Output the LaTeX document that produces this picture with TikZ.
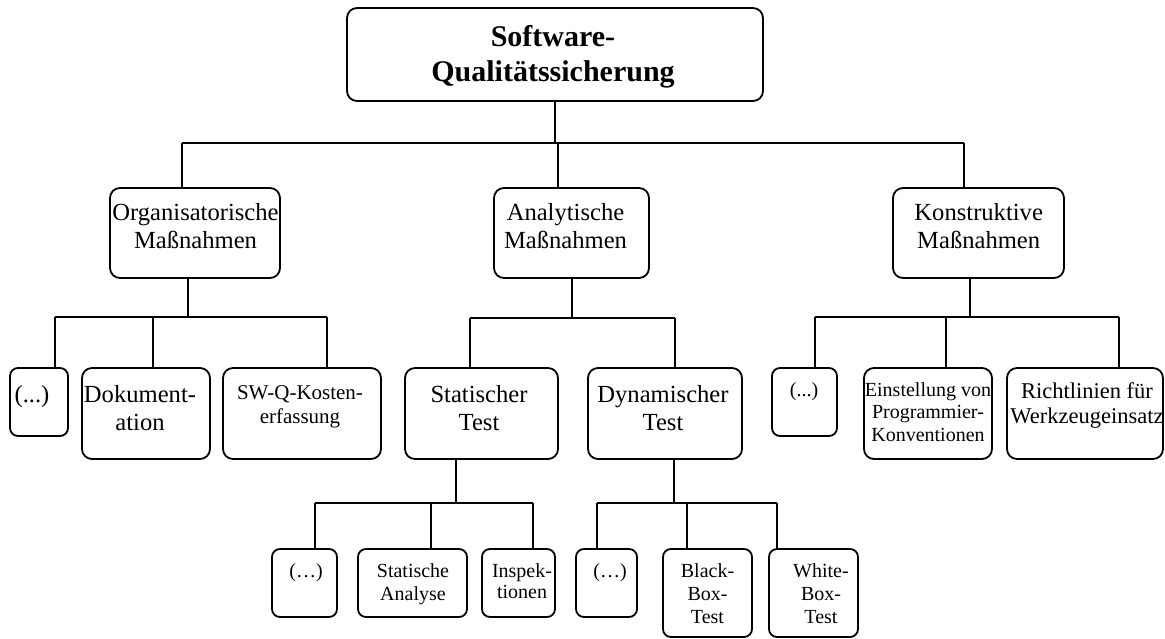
\documentclass[tikz,border=0pt]{standalone}
\usepackage{fontspec}
\setmainfont{Liberation Serif}
\tikzset{
  box/.style={draw, line width=1.8pt, rounded corners=10pt, inner sep=0pt, outer sep=0pt},
  sbox/.style={box, rounded corners=8pt},
  link/.style={line width=1.8pt},
  % labels are placed by the baseline of their last line
  lbl/.style={anchor=base, align=center, inner sep=0pt},
  big/.style={lbl, font=\fontsize{24.6}{28}\selectfont},
  mid/.style={lbl, font=\fontsize{21}{24}\selectfont},
  wide/.style={lbl, font=\fontsize{22.5}{25}\selectfont},
  small/.style={lbl, font=\fontsize{20}{23}\selectfont},
  head/.style={lbl, font=\fontsize{30}{35}\selectfont\bfseries},
}
% box from corner (x1,y1) to corner (x2,y2)
\newcommand\mkbox[6]{%
  \node[#1, minimum width={(#5-#3)*1pt}, minimum height={(#6-#4)*1pt}]
    (#2) at ({(#3+#5)/2},{(#4+#6)/2}) {};}
\begin{document}
\begin{tikzpicture}[x=1pt, y=-1pt]
\useasboundingbox (0,0) rectangle (1165,639);

% ---- boxes ----
\mkbox{box}{top}{347}{8}{763}{101}
\mkbox{box}{org}{110}{188}{280}{278}
\mkbox{box}{ana}{494}{188}{649}{278}
\mkbox{box}{kon}{893}{188}{1064}{278}
\mkbox{sbox}{o1}{10}{368}{68}{436}
\mkbox{box}{o2}{82}{368}{210}{459}
\mkbox{box}{o3}{223}{368}{381}{459}
\mkbox{box}{stat}{405}{368}{558}{459}
\mkbox{box}{dyn}{588}{368}{742}{459}
\mkbox{sbox}{k1}{772}{368}{837}{436}
\mkbox{box}{k2}{864}{368}{992}{459}
\mkbox{box}{k3}{1007}{368}{1163}{459}
\mkbox{sbox}{s1}{272}{549}{337}{617}
\mkbox{sbox}{s2}{358}{549}{467}{617}
\mkbox{sbox}{s3}{482}{549}{555}{617}
\mkbox{sbox}{d1}{576}{549}{637}{617}
\mkbox{sbox}{d2}{663}{549}{752}{637}
\mkbox{sbox}{d3}{769}{549}{858}{637}

% ---- labels ----
\node[head] (top-t) at (553,82) {Software-\\Qualitätssicherung};
\node[big] (org-t) at (195.5,248) {Organisatorische\\Maßnahmen};
\node[big] (ana-t) at (565.5,248) {Analytische\\Maßnahmen};
\node[big] (kon-t) at (978.7,248) {Konstruktive\\Maßnahmen};
\node[big] (o1-t) at (32,402) {(...)};
\node[big] (o2-t) at (140,430) {Dokument-\\ation};
\node[mid] (o3-t) at (300,423) {SW-Q-Kosten-\\erfassung};
\node[big] (stat-t) at (479,430) {Statischer\\Test};
\node[big] (dyn-t) at (663,430) {Dynamischer\\Test};
\node[small] (k1-t) at (804,396) {(...)};
\node[small, font=\fontsize{20}{22.7}\selectfont] (k2-t) at (928,441.4) {Einstellung von\\Programmier-\\Konventionen};
\node[wide] (k3-t) at (1087,423) {Richtlinien für\\Werkzeugeinsatz};
\node[small] (s1-t) at (306,577) {(…)};
\node[small] (s2-t) at (413,600) {Statische\\Analyse};
\node[small, font=\fontsize{20}{21.5}\selectfont] (s3-t) at (522,598.5) {Inspek-\\tionen};
\node[small] (d1-t) at (610,577) {(…)};
\node[small] (d2-t) at (707.5,623) {Black-\\Box-\\Test};
\node[small] (d3-t) at (821,623) {White-\\Box-\\Test};

% ---- junction points ----
\coordinate (b0) at (555,143);
\coordinate (b0l) at (182,143);
\coordinate (b0m) at (558,143);
\coordinate (b0r) at (964,143);
\coordinate (bo) at (188,317);
\coordinate (bol) at (55,317);
\coordinate (bom) at (153,317);
\coordinate (bor) at (327,317);
\coordinate (ba) at (572,318);
\coordinate (bal) at (470,318);
\coordinate (bar) at (675,318);
\coordinate (bk) at (970,317);
\coordinate (bkl) at (815,317);
\coordinate (bkm) at (946,317);
\coordinate (bkr) at (1119,317);
\coordinate (bs) at (456,503);
\coordinate (bsl) at (315,503);
\coordinate (bsm) at (431,503);
\coordinate (bsr) at (533,503);
\coordinate (bd) at (674,503);
\coordinate (bdl) at (597,503);
\coordinate (bdm) at (687,503);
\coordinate (bdr) at (777,503);

% ---- connectors ----
\draw[link] (top.south -| b0) -- (b0);
\draw[link] (b0l) -- (b0r);
\draw[link] (b0l) -- (b0l |- org.north);
\draw[link] (b0m) -- (b0m |- ana.north);
\draw[link] (b0r) -- (b0r |- kon.north);

\draw[link] (org.south -| bo) -- (bo);
\draw[link] (bol) -- (bor);
\draw[link] (bol) -- (bol |- o1.north);
\draw[link] (bom) -- (bom |- o2.north);
\draw[link] (bor) -- (bor |- o3.north);

\draw[link] (ana.south -| ba) -- (ba);
\draw[link] (bal) -- (bar);
\draw[link] (bal) -- (bal |- stat.north);
\draw[link] (bar) -- (bar |- dyn.north);

\draw[link] (kon.south -| bk) -- (bk);
\draw[link] (bkl) -- (bkr);
\draw[link] (bkl) -- (bkl |- k1.north);
\draw[link] (bkm) -- (bkm |- k2.north);
\draw[link] (bkr) -- (bkr |- k3.north);

\draw[link] (stat.south -| bs) -- (bs);
\draw[link] (bsl) -- (bsr);
\draw[link] (bsl) -- (bsl |- s1.north);
\draw[link] (bsm) -- (bsm |- s2.north);
\draw[link] (bsr) -- (bsr |- s3.north);

\draw[link] (dyn.south -| bd) -- (bd);
\draw[link] (bdl) -- (bdr);
\draw[link] (bdl) -- (bdl |- d1.north);
\draw[link] (bdm) -- (bdm |- d2.north);
\draw[link] (bdr) -- (bdr |- d3.north);
\end{tikzpicture}
\end{document}
